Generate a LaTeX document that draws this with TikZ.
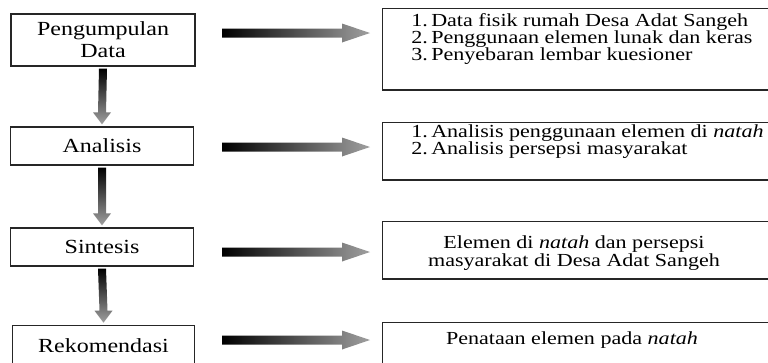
\documentclass[tikz,border=0pt]{standalone}
\usepackage{fontspec}
\setmainfont[FakeStretch=1.2]{Liberation Serif}
\usetikzlibrary{calc}

% panah tebal dengan gradasi (mendatar dan menurun)
\newcommand{\panahkanan}[2]{%
  \shade[left color=black, middle color=gray!20, right color=gray!75]
    ($(#1)+(0,-4.5)$) -- ($(#2)+(-28,-4.5)$) -- ($(#2)+(-28,-9.5)$) -- (#2)
    -- ($(#2)+(-28,9.5)$) -- ($(#2)+(-28,4.5)$) -- ($(#1)+(0,4.5)$) -- cycle;}
\newcommand{\panahbawah}[2]{%
  \shade[top color=black, middle color=gray!30, bottom color=gray!75]
    ($(#1)+(-4,2)$) -- ($(#2)+(-4,-14)$) -- ($(#2)+(-9,-14)$) -- ($(#2)+(0,-2)$)
    -- ($(#2)+(9,-14)$) -- ($(#2)+(4,-14)$) -- ($(#1)+(4,2)$) -- cycle;}
\newcommand{\nomor}[1]{\makebox[15pt][l]{#1}}
\newcommand{\hurufkiri}{\fontsize{15}{14.3}\selectfont\lineskiplimit=-20pt\relax}
\newcommand{\hurufkanan}{\fontsize{13.8}{13}\selectfont\lineskiplimit=-20pt\relax}

\begin{document}
\begin{tikzpicture}[x=0.75pt, y=-0.75pt,
    kotak/.style={draw=black!85, line width=0.9pt, fill=white, inner sep=0pt,
      align=center, font=\hurufkiri},
    isi/.style={align=left, inner sep=0pt, font=\hurufkanan}]
  \useasboundingbox (0,0) rectangle (768,362);

  % Kotak kiri
  \node[kotak, minimum width=138pt, minimum height=39pt] (pd) at (103,40) {Pengumpulan\\[2pt]Data};
  \node[kotak, minimum width=137pt, minimum height=28.5pt] (an) at (102,146) {Analisis};
  \node[kotak, minimum width=137pt, minimum height=28.5pt] (si) at (102,247) {Sintesis};
  \node[kotak, minimum width=137pt, minimum height=31pt] (re) at (103.5,346) {Rekomendasi};

  % Kotak kanan
  \node[kotak, minimum width=300pt, minimum height=61pt, anchor=north west] (h1) at (382,8) {};
  \node[kotak, minimum width=300pt, minimum height=43pt, anchor=north west] (h2) at (382,122) {};
  \node[kotak, minimum width=300pt, minimum height=43pt, anchor=north west] (h3) at (382,221) {};
  \node[kotak, minimum width=300pt, minimum height=33pt, anchor=north west] (h4) at (382,322) {};

  % Isi kotak kanan
  \node[isi, anchor=north west] (t1) at (411,13) {%
    \nomor{1.}Data fisik rumah Desa Adat Sangeh\\
    \nomor{2.}Penggunaan elemen lunak dan keras\\
    \nomor{3.}Penyebaran lembar kuesioner};
  \node[isi, anchor=north west] (t2) at (411,124) {%
    \nomor{1.}Analisis penggunaan elemen di \textit{natah}\\
    \nomor{2.}Analisis persepsi masyarakat};
  \node[isi, align=center] (t3) at (574,253) {%
    Elemen di \textit{natah} dan persepsi\\
    masyarakat di Desa Adat Sangeh};
  \node[isi] (t4) at (572,340) {Penataan elemen pada \textit{natah}};

  % Titik ujung panah mendatar
  \coordinate (a1) at (222,33);  \coordinate (b1) at (370,33);
  \coordinate (a2) at (222,147); \coordinate (b2) at (370,147);
  \coordinate (a3) at (222,252); \coordinate (b3) at (370,252);
  \coordinate (a4) at (222,340); \coordinate (b4) at (370,340);

  % Panah
  \panahkanan{a1}{b1}
  \panahkanan{a2}{b2}
  \panahkanan{a3}{b3}
  \panahkanan{a4}{b4}
  \panahbawah{pd.south}{an.north}
  \panahbawah{an.south}{si.north}
  \panahbawah{si.south}{re.north}
\end{tikzpicture}
\end{document}
